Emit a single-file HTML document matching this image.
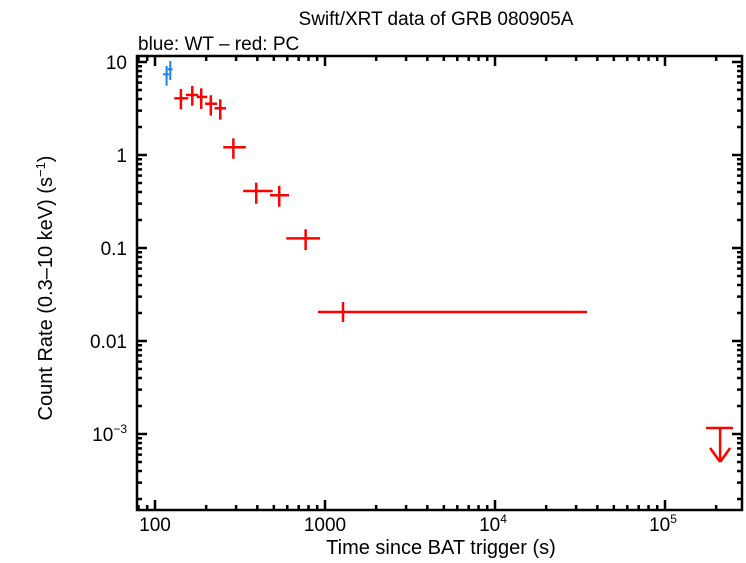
<!DOCTYPE html>
<html><head><meta charset="utf-8"><style>
body{margin:0;background:#fff}
svg text{font-family:"Liberation Sans",sans-serif;fill:#000}
</style></head><body>
<svg width="746" height="558" viewBox="0 0 746 558">
<text x="436" y="25" font-size="19" text-anchor="middle">Swift/XRT data of GRB 080905A</text>
<text x="138" y="50" font-size="19">blue: WT – red: PC</text>
<text transform="translate(52,288) rotate(-90)" font-size="20" text-anchor="middle">Count Rate (0.3–10 keV) (s<tspan dy="-7" font-size="13">−1</tspan><tspan dy="7">)</tspan></text>
<text x="441" y="554" font-size="20" text-anchor="middle">Time since BAT trigger (s)</text>
<g id="ticks"></g>
<g id="marks"></g>
<rect x="137" y="56" width="605" height="454" fill="none" stroke="#000" stroke-width="2.5"/>
</svg>
<script>
const wtT=[117,123], wtTlo=[111.5,118.8], wtThi=[120.8,127];
const wtR=[7.38,8.35], wtRlo=[5.56,6.4], wtRhi=[9.06,10.25];
const pcT=[142,165.7,187,213,242,289,394,538,769,1276];
const pcTlo=[129.9,152,176,197,224,252,330,475,592,910];
const pcThi=[157,179.7,203,231.5,261.5,342,492,614,935,34750];
const pcR=[4.07,4.42,4.21,3.56,3.18,1.21,0.41,0.369,0.127,0.0205];
const pcRlo=[3.10,3.39,3.13,2.65,2.40,0.912,0.299,0.278,0.095,0.016];
const pcRhi=[5.13,5.52,5.21,4.39,3.97,1.51,0.504,0.465,0.159,0.0262];
const ulT=[2.11e5], ulTlo=[1.74e5], ulThi=[2.51e5], ulR=[1.16e-3], ulEnd=[5.0e-4];
const xTickVals=[100,1000,1e4,1e5];
const xTickLabels=["100","1000","10|4","10|5"];
const yTickVals=[10,1,0.1,0.01,0.001];
const yTickLabels=["10","1","0.1","0.01","10|−3"];
const NS="http://www.w3.org/2000/svg";
const X=t=>155+170*(Math.log10(t)-2);
const Y=r=>62+93*(1-Math.log10(r));
const L=137,R=742,T=56,B=510;
const tk=document.getElementById('ticks'), mk=document.getElementById('marks');
function ln(g,x1,y1,x2,y2,c,w,name){const e=document.createElementNS(NS,'line');
e.setAttribute('x1',x1);e.setAttribute('y1',y1);e.setAttribute('x2',x2);e.setAttribute('y2',y2);
e.setAttribute('stroke',c);e.setAttribute('stroke-width',w);


g.appendChild(e);return e;}
function lbl(x,y,s,anchor,name){const e=document.createElementNS(NS,'text');
e.setAttribute('x',x);e.setAttribute('y',y);e.setAttribute('font-size','19');e.setAttribute('text-anchor',anchor);
const p=s.split('|');e.textContent=p[0];
if(p[1]){const ts=document.createElementNS(NS,'tspan');ts.setAttribute('dy','-8');ts.setAttribute('font-size','12');ts.textContent=p[1];e.appendChild(ts);}


tk.appendChild(e);}
for(let d=1;d<=5;d++){for(let m=1;m<10;m++){const v=m*Math.pow(10,d);const x=X(v);if(x<L||x>R)continue;
const len=m===1?10:5;ln(tk,x,B,x,B-len,'#000',2.5,'x-tick');ln(tk,x,T,x,T+len,'#000',2.5,'x-tick');}}
xTickVals.forEach((v,i)=>lbl(X(v)+(xTickLabels[i].includes('|')?-2:0),531,xTickLabels[i],'middle','x-tick-label'));
for(let d=-4;d<=1;d++){for(let m=1;m<10;m++){const v=m*Math.pow(10,d);const y=Y(v);if(y<T||y>B)continue;
const len=m===1?10:5;ln(tk,L,y,L+len,y,'#000',2.5,'y-tick');ln(tk,R,y,R-len,y,'#000',2.5,'y-tick');}}
yTickVals.forEach((v,i)=>lbl(127,Y(v)+7,yTickLabels[i],'end','y-tick-label'));
wtT.forEach((t,i)=>{ln(mk,X(wtTlo[i]),Y(wtR[i]),X(wtThi[i]),Y(wtR[i]),'#1a7fe6',2,'wt-point-xerr');
ln(mk,X(t),Y(wtRlo[i]),X(t),Y(wtRhi[i]),'#1a7fe6',2,'wt-point-yerr');});
pcT.forEach((t,i)=>{ln(mk,X(pcTlo[i]),Y(pcR[i]),X(pcThi[i]),Y(pcR[i]),'#f00',2.5,'pc-point-xerr');
ln(mk,X(t),Y(pcRlo[i]),X(t),Y(pcRhi[i]),'#f00',2.5,'pc-point-yerr');});
ulT.forEach((t,i)=>{const x=X(t),y=Y(ulR[i]),ye=Y(ulEnd[i]);
ln(mk,X(ulTlo[i]),y,X(ulThi[i]),y,'#f00',2.5,'upper-limit-bar');
ln(mk,x,y,x,ye,'#f00',2.5,'upper-limit-stem');
ln(mk,x-10,ye-14,x,ye,'#f00',2.5,'upper-limit-arrow');
ln(mk,x+10,ye-14,x,ye,'#f00',2.5,'upper-limit-arrow');});
</script>
</body></html>
